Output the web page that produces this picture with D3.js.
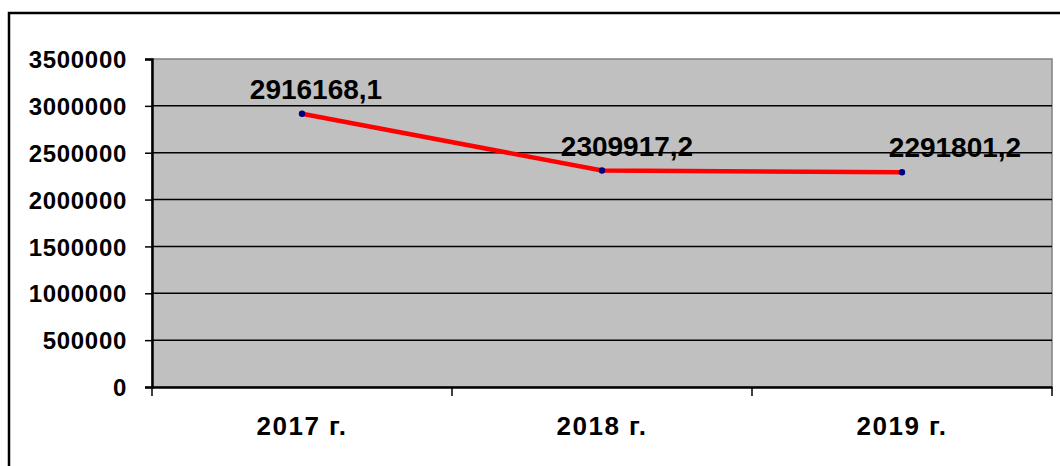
<!DOCTYPE html>
<html>
<head>
<meta charset="utf-8">
<script src="https://cdn.jsdelivr.net/npm/d3@7"></script>
<style>
  html, body { margin: 0; padding: 0; background: #fff; }
  svg { display: block; }
  text { font-family: "Liberation Sans", Arial, sans-serif; font-weight: bold; fill: #000; }
</style>
</head>
<body>
<svg id="chart" width="1060" height="466"></svg>
<script>
const categories = ["2017 г.", "2018 г.", "2019 г."];
const values = [2916168.1, 2309917.2, 2291801.2];
const yTicks = [0, 500000, 1000000, 1500000, 2000000, 2500000, 3000000, 3500000];
const labelShift = [14, 25, 53];

const svg = d3.select("#chart");
const W = 1060, H = 466;
const plot = { left: 152, right: 1052, top: 59, bottom: 387 };

// outer frame
svg.append("path")
  .attr("d", `M9,${H + 2} L9,13 L${W + 2},13`)
  .attr("fill", "none").attr("stroke", "#000").attr("stroke-width", 2.5);

const x = d3.scaleBand().domain(categories).range([plot.left, plot.right]).padding(0);
const y = d3.scaleLinear().domain([0, 3500000]).range([plot.bottom, plot.top]);

// plot area background
svg.append("rect")
  .attr("x", plot.left).attr("y", plot.top)
  .attr("width", plot.right - plot.left).attr("height", plot.bottom - plot.top)
  .attr("fill", "#c0c0c0").attr("stroke", "#808080").attr("stroke-width", 1.5);

// gridlines
svg.append("g").selectAll("line")
  .data(yTicks.filter(d => d > 0 && d < 3500000))
  .join("line")
  .attr("x1", plot.left).attr("x2", plot.right)
  .attr("y1", d => y(d)).attr("y2", d => y(d))
  .attr("stroke", "#000").attr("stroke-width", 1.5);

// y axis
const yAxis = d3.axisLeft(y).tickValues(yTicks).tickSize(7).tickPadding(18)
  .tickFormat(d3.format("d"));
const gy = svg.append("g").attr("transform", `translate(${plot.left},0)`).call(yAxis);
gy.select(".domain").attr("stroke", "#000").attr("stroke-width", 2.5);
gy.selectAll(".tick line").attr("stroke", "#000").attr("stroke-width", 1.5);
gy.selectAll(".tick text")
  .style("font-family", '"Liberation Sans", Arial, sans-serif')
  .style("font-weight", "bold").style("font-size", "24px")
  .style("letter-spacing", "0.7px")
  .attr("dy", "0.36em").attr("fill", "#000");

// x axis
const xAxis = d3.axisBottom(x).tickSize(0).tickPadding(30);
const gx = svg.append("g").attr("transform", `translate(0,${plot.bottom})`).call(xAxis);
gx.select(".domain").attr("stroke", "#000").attr("stroke-width", 2.5);
gx.selectAll(".tick text")
  .style("font-family", '"Liberation Sans", Arial, sans-serif')
  .style("font-weight", "bold").style("font-size", "26px")
  .style("letter-spacing", "1.5px")
  .attr("fill", "#000");
// category boundary ticks
const bounds = categories.map(c => x(c)).concat([x(categories[categories.length - 1]) + x.bandwidth()]);
svg.append("g").selectAll("line").data(bounds).join("line")
  .attr("x1", d => d).attr("x2", d => d)
  .attr("y1", plot.bottom).attr("y2", plot.bottom + 9)
  .attr("stroke", "#000").attr("stroke-width", 1.5);

// line
const cx = d => x(d) + x.bandwidth() / 2;
const line = d3.line().x((d, i) => cx(categories[i])).y(d => y(d));
svg.append("path").datum(values)
  .attr("d", line).attr("fill", "none")
  .attr("stroke", "#ff0000").attr("stroke-width", 4.5);

// markers
svg.append("g").selectAll("circle").data(values).join("circle")
  .attr("cx", (d, i) => cx(categories[i])).attr("cy", d => y(d))
  .attr("r", 3.2).attr("fill", "#000080");

// data labels
svg.append("g").selectAll("text").data(values).join("text")
  .attr("x", (d, i) => cx(categories[i]) + labelShift[i])
  .attr("y", d => y(d) - 15)
  .attr("text-anchor", "middle")
  .style("font-size", "28px")
  .text(d => d.toFixed(1).replace(".", ","));
</script>
</body>
</html>
